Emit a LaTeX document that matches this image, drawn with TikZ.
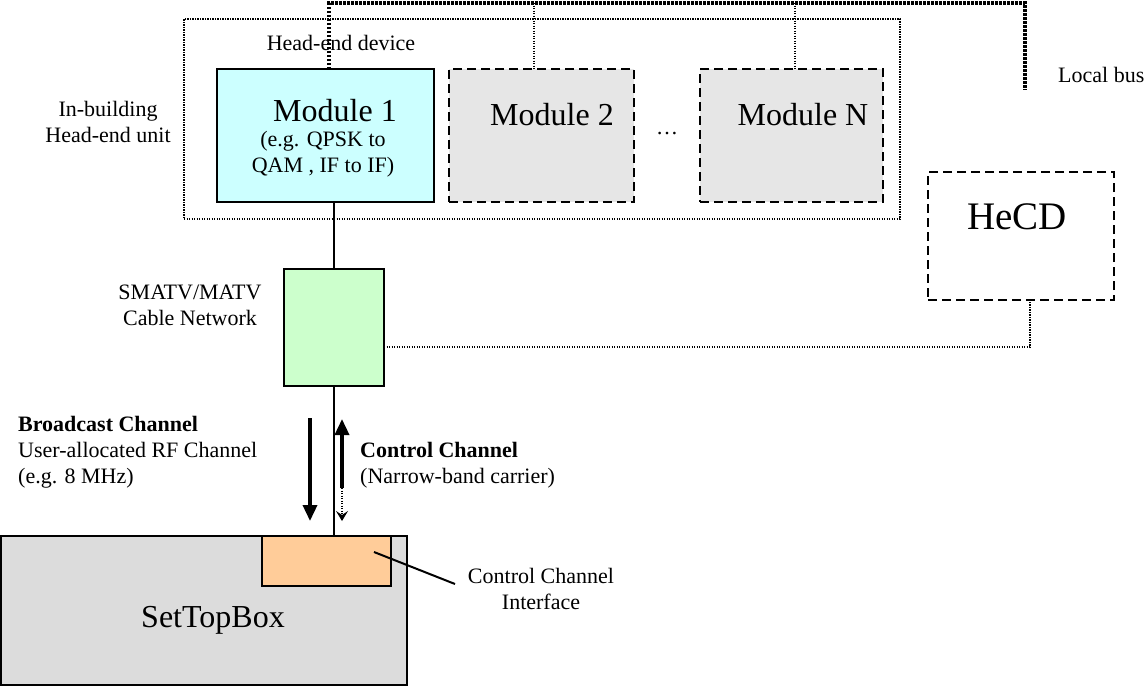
\documentclass[tikz,border=0pt]{standalone}
\usepackage{fontspec}
\setmainfont{Liberation Serif}
\usetikzlibrary{arrows.meta}
\definecolor{modcyan}{HTML}{CCFFFF}
\definecolor{modgrey}{HTML}{E6E6E6}
\definecolor{netgreen}{HTML}{CCFFCC}
\definecolor{stbgrey}{HTML}{DCDCDC}
\definecolor{ccorange}{HTML}{FFCC99}
\tikzset{
  box/.style={draw, line width=2.5pt, inner sep=0pt, outer sep=0pt},
  dashbox/.style={box, dash pattern=on 9pt off 5pt},
  dotline/.style={line width=2pt, dash pattern=on 1.4pt off 1.1pt},
  busline/.style={line width=3.2pt, dash pattern=on 2.5pt off 1.5pt},
  wire/.style={line width=1.5pt},
  txt/.style={font=\fontsize{22}{26}\selectfont, inner sep=0pt, align=center},
  bigtxt/.style={font=\fontsize{32}{36}\selectfont, inner sep=0pt},
  fatarrow/.style={line width=3.5pt, -{Triangle[width=14pt,length=16pt]}}
}
\begin{document}
\begin{tikzpicture}[x=1pt,y=-1pt]
\useasboundingbox (0,0) rectangle (1144,686);

% outer dotted box
\node[dotline, draw, inner sep=0pt, minimum width=716pt, minimum height=200pt] (outer) at (542,119) {};

% bus coordinates
\coordinate (busL) at (329,3);
\coordinate (busR) at (1025,3);
\coordinate (busEnd) at (1025,90);
\coordinate (tap2) at (534,3);
\coordinate (tapN) at (795,3);
\coordinate (corner) at (1030,347);

% modules
\node[box, fill=modcyan, minimum width=217pt, minimum height=133pt] (m1) at (325.5,135.5) {};
\node[dashbox, fill=modgrey, minimum width=185pt, minimum height=133pt] (m2) at (541.5,135.5) {};
\node[dashbox, fill=modgrey, minimum width=183pt, minimum height=133pt] (mN) at (791.5,135.5) {};
\node[dashbox, minimum width=186pt, minimum height=128pt] (hecd) at (1021,236) {};
\node[box, fill=netgreen, minimum width=100pt, minimum height=117pt] (smatv) at (334,327.5) {};
\node[box, fill=stbgrey, minimum width=406pt, minimum height=149pt] (stb) at (204,610.5) {};
\node[box, fill=ccorange, minimum width=129pt, minimum height=50pt] (cci) at (326.5,561) {};

% bus lines
\draw[busline] (m1.north -| busL) -- (busL) -- (busR) -- (busEnd);
\draw[dotline, line width=2.4pt] (tap2) -- (tap2 |- m2.north);
\draw[dotline, line width=2.4pt] (tapN) -- (tapN |- mN.north);

% solid wires
\draw[wire] (m1.south -| smatv.north) -- (smatv.north);
\draw[wire] (smatv.south) -- (smatv.south |- stb.north);

% dotted link to HeCD
\draw[dotline] (corner -| smatv.east) -- (corner) -- (corner |- hecd.south);

% channel arrows
\coordinate (bcTop) at (310,418);
\coordinate (bcBot) at (310,521);
\coordinate (ccTop) at (342,419);
\coordinate (ccMid) at (342,488);
\coordinate (ccBot) at (342,521);
\draw[fatarrow] (bcTop) -- (bcBot);
\draw[fatarrow] (ccMid) -- (ccTop);
\draw[dotline, line width=2.8pt, -{Stealth[width=12pt,length=10pt,inset=4pt]}] (ccMid) -- (ccBot);

% leader line
\coordinate (leadA) at (374,552);
\coordinate (leadB) at (455,584);
\draw[line width=2pt] (leadA) -- (leadB);

% texts
\node[txt] (hedev) at (341,43) {Head-end device};
\node[txt] (inbld) at (108,122) {In-building\\Head-end unit};
\node[bigtxt] (m1t) at (335,111) {Module 1};
\node[txt] (m1s1) at (323,141) {(e.g. QPSK to};
\node[txt] (m1s2) at (323,167) {QAM , IF to IF)};
\node[bigtxt] (m2t) at (552,115) {Module 2};
\node[bigtxt] (mNt) at (803,115) {Module N};
\node[txt] (dots) at (667,134) {\dots};
\node[font=\fontsize{39}{44}\selectfont, inner sep=0pt] (hecdt) at (1017,217) {HeCD};
\node[txt, anchor=west] (lbus) at (1058,75) {Local bus};
\node[txt] (smt) at (190,305.5) {SMATV/MATV\\Cable Network};
\node[txt, anchor=west, align=left] (bct) at (18,452) {\textbf{Broadcast Channel}\\User-allocated RF Channel\\(e.g. 8 MHz)};
\node[txt, anchor=west, align=left] (cct) at (360,465.5) {\textbf{Control Channel}\\(Narrow-band carrier)};
\node[txt] (ccit) at (541,589) {Control Channel\\Interface};
\node[bigtxt] (stbt) at (213,620) {SetTopBox};
\end{tikzpicture}
\end{document}
